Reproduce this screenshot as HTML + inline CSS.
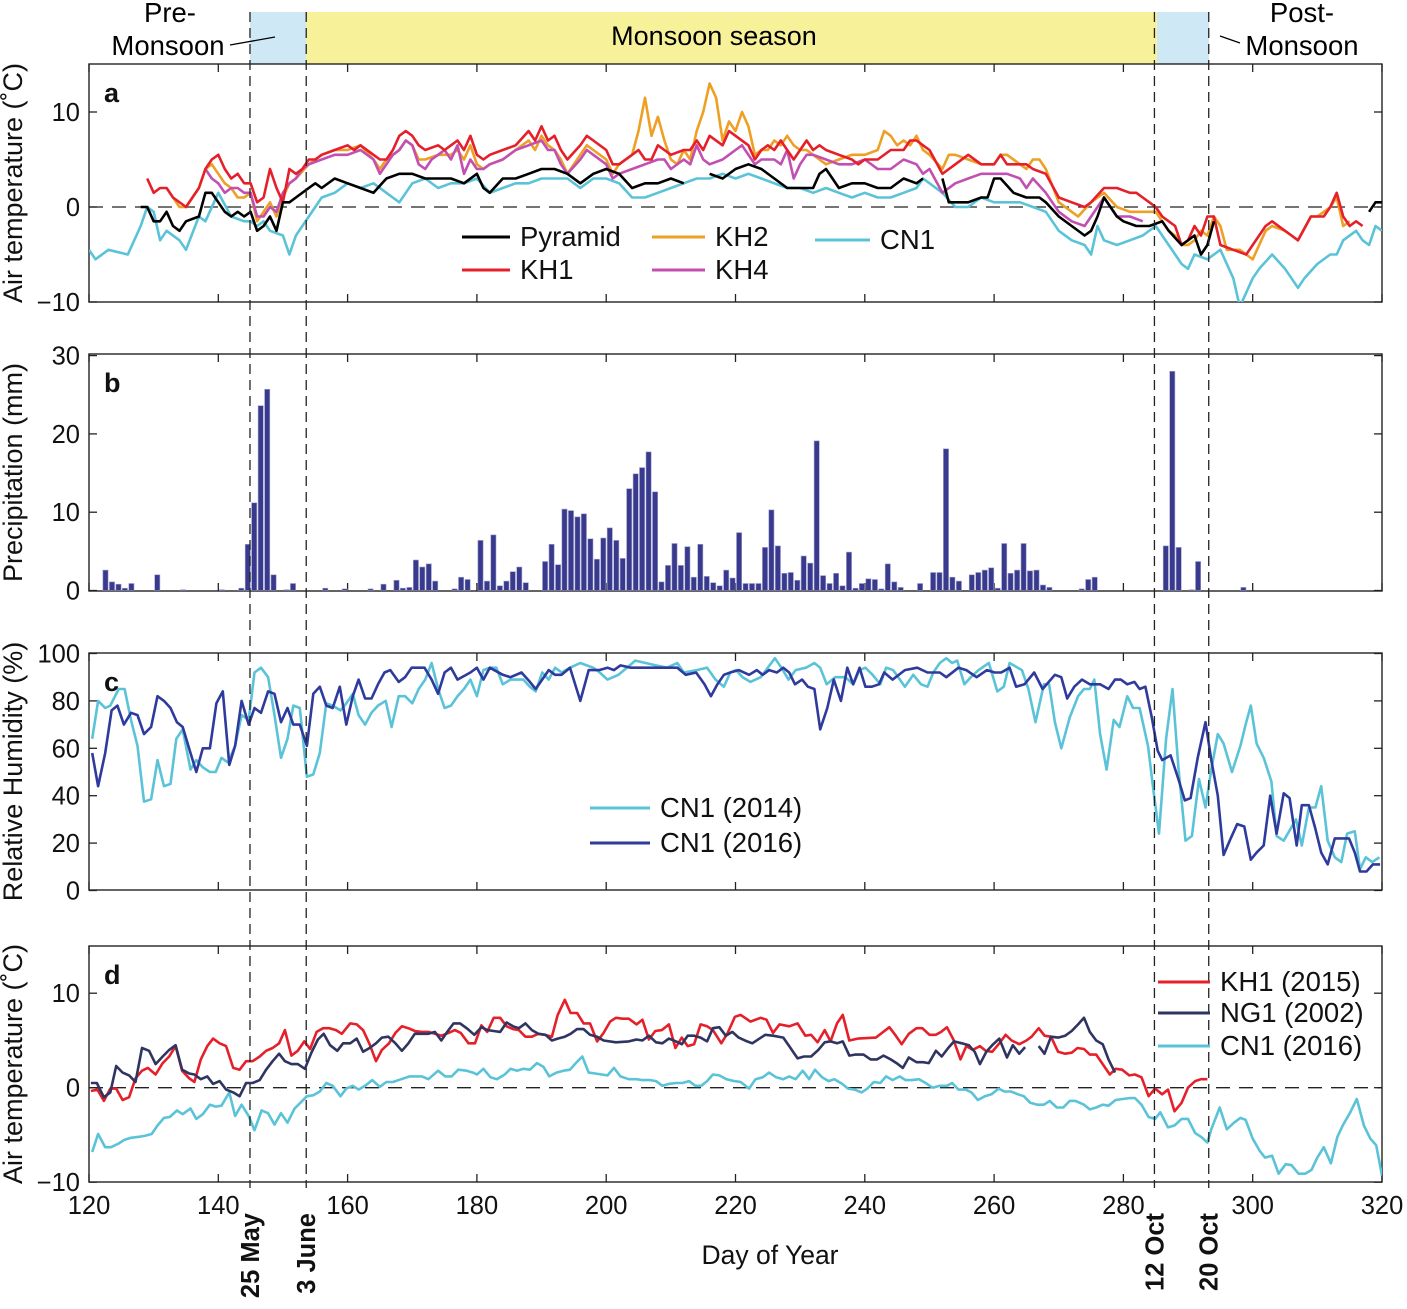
<!DOCTYPE html>
<html><head><meta charset="utf-8">
<style>
html,body{margin:0;padding:0;background:#fff;}
svg{display:block;font-family:"Liberation Sans",Arial,sans-serif;}
</style></head>
<body>
<svg id="chart" width="1407" height="1309" viewBox="0 0 1407 1309" xmlns="http://www.w3.org/2000/svg">
<defs>
<clipPath id="clipA"><rect x="89" y="64" width="1293" height="238"/></clipPath>
<clipPath id="clipC"><rect x="89" y="653" width="1293" height="237"/></clipPath>
<clipPath id="clipD"><rect x="89" y="946" width="1293" height="236"/></clipPath>
</defs>
<!-- season band -->
<rect x="250" y="12" width="56" height="52" fill="#cfe8f6"/>
<rect x="306" y="12" width="851" height="52" fill="#f7f29a"/>
<rect x="1157" y="12" width="52" height="52" fill="#cfe8f6"/>
<text x="714" y="45" font-size="27" text-anchor="middle">Monsoon season</text>
<text x="170" y="22" font-size="27.5" text-anchor="middle">Pre-</text>
<text x="168" y="55" font-size="27.5" text-anchor="middle">Monsoon</text>
<line x1="230" y1="45" x2="275" y2="37" stroke="#000" stroke-width="1.3"/>
<text x="1302" y="22" font-size="27.5" text-anchor="middle">Post-</text>
<text x="1302" y="55" font-size="27.5" text-anchor="middle">Monsoon</text>
<line x1="1220" y1="36" x2="1240" y2="43" stroke="#000" stroke-width="1.3"/>
<g id="plots"></g>
</svg>
<script>
// ---------- Panel a: air temperature ----------
const aCN1Days=[120,121,123,126,128,129,130,131,132,134,135,137,138,140,142,144,145,146,147,148,150,151,152,154,156,158,160,162,164,166,168,170,172,174,176,178,180,182,184,186,188,190,192,194,196,198,200,202,204,206,208,210,212,214,216,218,220,222,224,226,228,230,232,234,236,238,240,242,244,246,248,249,252,254,256,258,260,262,264,266,268,270,272,274,275,276,277,279,281,283,285,287,289,290,291,293,295,297,298,300,301,303,305,307,308,310,312,313,314,316,317,318,319,320];
const aCN1Vals=[-4.5,-5.5,-4.5,-5,-2,0,-0.5,-3.5,-2.5,-3.5,-4.5,-1,-1.5,1.5,-1,-1.5,-1.5,-2,-1.5,-2.5,-3,-5,-3,-1,1,1.5,2.5,2,2.5,1.5,0.5,2.5,3,2,2.5,2.5,3,1.5,2,2.5,2.5,3,3,3,2,3,3,2.5,1,1,1.5,2,2.5,3,3,3.5,3,3.5,3,2.5,2,2,1.5,2,1.5,1,1.5,1,1,1.5,2,3,1.5,0,0,1,0.5,0.5,0.5,0,-0.5,-2.5,-3.5,-4,-5,-2,-3.5,-4,-3.5,-3,-2,-4,-6,-6.5,-5,-5.5,-4.5,-7.5,-10.5,-7.5,-6.5,-5,-6.5,-8.5,-7.5,-6,-5,-5,-3.5,-2.5,-3.5,-4,-2,-2.5];
const aPyrDays=[128,129,130,131,132,133,134,135,137,138,139,141,142,143,144,145,146,147,148,149,150,151,152,154,155,156,158,160,162,164,166,168,170,172,174,176,178,180,181,182,184,186,188,190,192,194,196,198,200,202,204,206,208,210,212,213,216,218,220,222,224,226,228,230,232,233,234,236,238,240,242,244,246,248,249,250,252,253,254,256,258,259,260,261,263,265,267,268,270,272,274,275,276,277,279,280,282,284,286,287,289,290,291,292,293,294,300,318,319,320];
const aPyrVals=[0,0,-1.5,-1.5,-0.5,-2,-2.5,-1.5,-1,1.5,1.5,-0.5,-1,-0.5,-1,-0.5,-2.5,-2,-1,-2.5,0.5,0.5,1,2,2.5,2,3,2.5,2,1.5,3,3.5,3.5,3,3,3,2.5,3.5,2,1.5,3,3,3.5,4,4,3.5,2.5,3.5,4,3.5,2,2.5,2.5,3,2.5,null,3.5,3,4,4.5,4,3,2,2,2,3.5,4,2,2.5,2.5,2,2,3,2.5,3,null,3,0.5,0.5,0.5,1,1,3,3,1.5,1,1,0.5,-1,-2,-3,-2.5,-1,1,-1,-1.5,-2,-2,-1.5,-2.5,-4,-3.5,-3,-5,-4,-1.5,null,-0.5,0.5,0.5];
const aKH1Days=[129,130,131,132,133,135,137,138,139,140,141,142,143,144,145,146,147,148,149,150,151,152,153,154,155,156,158,160,161,162,164,165,166,167,168,169,170,171,172,174,175,176,177,178,179,180,181,182,184,186,188,189,190,191,192,193,194,196,197,198,200,201,202,204,205,206,207,208,209,210,212,213,214,215,216,218,219,220,222,223,224,225,226,227,228,229,230,231,232,233,234,236,238,239,240,242,244,246,247,248,249,250,252,254,256,258,260,261,262,264,265,266,268,270,272,274,275,277,279,281,282,284,285,286,287,288,289,290,291,292,293,294,295,297,299,300,302,303,305,306,307,309,310,311,312,313,314,315,316,317];
const aKH1Vals=[3,1.5,2,2,1,0,2,4,5,5.5,4,3,3.5,2.5,2.5,0.5,1,4,2,0.5,4,3.5,4,5,5,5.5,6,6.5,6,6.5,5.5,5,5,6,7.5,8,7.5,6.5,6,6.5,6,6.5,7,6,7.5,5.5,5,5.5,6,6.5,8,7,8.5,7,7.5,6,5,6.5,7.5,7,6,4.5,4.5,5.5,6,5,5,6.5,6,5.5,6,6,7,6,7.5,6.5,8,7.5,6.5,5,6,6.5,6,7,6,5,6,7,6,6.5,6,5.5,5,4.5,5,5,6,6,7,7,6.5,6,3.5,4.5,5.5,4.5,4.5,5.5,4.5,4.5,4.5,4,3.5,1,0.5,0,0.5,2,2,1.5,1.5,0.5,0,-1,-1.5,-2,-4,-3.5,-2,-3,-1,-1,-4,-4.5,-5,-4,-2,-1.5,-2.5,-3,-3.5,-1,-1,-1,0,1.5,-1,-2,-1.5,-2];
const aKH2Days=[133,134,135,137,138,139,140,141,142,143,144,145,146,147,148,149,150,151,152,154,156,158,160,162,164,165,166,167,168,169,170,171,172,174,176,177,178,179,180,181,182,184,186,188,189,190,191,192,193,194,196,197,198,200,201,202,203,204,205,206,207,208,209,210,211,212,213,214,215,216,217,218,219,220,221,222,223,224,225,226,227,228,229,230,231,232,234,236,238,240,242,243,244,245,246,247,248,249,250,252,253,254,256,258,260,261,262,264,265,266,267,268,270,272,273,275,277,279,281,283,285,286,287,288,289,290,291,292,293,294,295,296,298,300,302,303,305,306,307,309,310,311,312,313,314,315];
const aKH2Vals=[1,0,0,2,4,4.5,3.5,2.5,2,1,1,1.5,-1.5,-0.5,0.5,-1,1,2.5,3,4.5,5.5,6,6,6.5,5,4,5,5.5,6,7,6.5,5,5,5.5,5.5,6,5,6.5,4.5,4,4.5,5,6,7,6,7.5,6.5,6,5,3.5,5.5,6.5,6,5,3.5,4.5,5,5.5,8,11.5,7.5,9.5,7,5,4.5,6,5,8,10,13,11.5,7,9,8,10,8.5,5.5,6,6,7,6.5,7.5,6.5,6,6,5.5,4.5,5,5.5,5.5,6,8,7.5,6.5,7,6.5,7.5,6,5.5,4,5.5,5.5,5,4.5,4.5,5.5,5.5,4.5,4,5,5,4,0.5,-0.5,-1,0.5,1.5,0,-0.5,-0.5,-0.5,-1.5,-2.5,-3,-4,-4,-3.5,-2.5,-3,-1,-2,-4.5,-4.5,-5.5,-2.5,-2,-2.5,-3,-3.5,-1,-1,-0.5,0,1,-2,-1.5];
const aKH4Days=[138,139,140,141,142,143,144,145,146,147,148,149,150,151,152,153,154,156,158,160,162,164,165,166,167,168,169,170,171,172,173,174,175,176,177,178,179,180,181,182,184,186,188,190,191,192,193,194,196,197,198,200,201,202,204,206,208,209,210,212,213,214,215,216,218,219,220,221,222,223,224,226,227,228,229,230,231,232,234,236,238,240,242,244,246,248,249,250,252,254,256,258,260,262,264,265,266,268,270,272,274,275,277,279,281,283];
const aKH4Vals=[4,3,2.5,1.5,2,2,1.5,1.5,-1,-1,0,-0.5,1.5,2.5,3,4,4.5,5,5.5,5.5,6,5,3.5,4.5,5.5,6,7,6.5,4.5,4,5,5.5,6,5,6.5,3.5,5,4,4,4.5,5,6,6.5,7,6,6,4.5,3.5,5,6,5.5,4.5,3,3.5,4,4.5,5,5,4,5,4.5,6.5,5,4.5,5,5.5,6,6.5,5.5,4.5,5,5,4.5,6,3,4.5,5.5,5.5,5,4.5,4.5,5,4,4,5,4.5,3.5,4,1.5,2.5,3,3.5,3.5,3.5,3,2,3,1.5,-0.5,-1.5,-2,-1,1,-1,-1,-1.5];
const aTicks=[10,0,-10];

// ---------- Panel b: precipitation ----------
const bDays=[122,123,124,125,126,130,134,140,143,144,145,146,147,148,150,151,156,159,163,165,167,168,169,170,171,172,173,176,177,178,180,181,182,183,184,185,186,187,190,191,192,193,194,195,196,197,198,199,200,201,202,203,204,205,206,207,208,209,210,211,212,213,214,215,216,217,218,219,220,221,222,223,224,225,226,227,228,229,230,231,232,233,234,235,236,237,238,239,240,241,242,243,244,245,248,250,251,252,253,254,256,257,258,259,260,261,262,263,264,265,266,267,268,273,274,275,286,287,288,290,291,298];
const bVals=[2.6,1.1,0.8,0.3,0.9,2.0,0.1,0.1,0.3,5.9,11.2,23.6,25.7,2.0,0.1,0.9,0.3,0.2,0.2,0.8,1.3,0.3,0.4,3.9,3.0,3.4,1.2,0.2,1.7,1.4,6.4,1.2,7.1,0.6,1.2,2.4,3.0,1.0,3.7,5.9,3.3,10.4,10.2,9.4,9.8,6.6,4.0,6.7,8.0,6.4,4.1,13.0,14.9,15.7,17.7,12.6,1.1,3.2,6.0,3.2,5.6,1.7,5.9,1.8,1.0,0.6,2.6,1.6,7.4,0.9,0.9,0.9,5.5,10.3,5.7,2.2,2.3,1.3,4.4,3.5,19.1,1.9,0.9,2.2,0.6,4.9,0.3,0.9,1.5,1.4,0.2,3.4,1.1,0.4,0.9,2.3,2.3,18.1,1.7,1.2,2.0,2.3,2.6,2.9,0.3,6.0,2.2,2.6,6.0,2.5,2.6,0.7,0.4,0.2,1.4,1.7,5.7,28.0,5.5,0.1,3.7,0.4];
const bTicks=[30,20,10,0];

// ---------- Panel c: relative humidity ----------
const c14Days=[120.5,121.4,122.5,123.3,124.6,125.5,126.5,127.5,128.5,129.6,130.6,131.6,132.6,133.5,134.5,135.7,136.6,137.6,138.7,139.6,140.5,141.5,142.6,143.6,144.7,145.6,146.6,147.7,148.7,149.7,150.7,151.6,152.6,153.7,154.7,155.7,156.7,157.7,158.9,159.8,160.8,161.7,162.7,163.7,164.7,165.9,166.8,167.9,168.9,170,171,172,173,174,175,176,177,178,179,180,181,182,183,184,185.2,186.2,187.2,188.2,189.1,190.1,191.1,192.1,193.1,194.4,196,198,199,200.2,201.9,203.2,204.5,206.1,207.7,209.4,211,212,214,215.6,216.9,218.2,219.2,220.1,221.1,222.3,223.9,226.1,227.1,228.2,229.3,230.9,232.2,233.1,234.1,235.4,237,238.2,239.2,240.1,241.2,242.4,243.3,244.4,246.2,247.5,248.7,249.7,250.6,251.6,252.6,253.5,254.3,255.4,256.4,257.6,259.2,260.5,261.5,262.4,264.3,265.3,266.4,267.7,268.5,269.4,270.4,271.7,273,273.9,274.8,275.5,276.4,277.4,278.5,279.4,280.6,281.5,282.5,283.8,284.7,285.5,286.6,287.6,288.5,289.6,290.6,291.7,292.7,293.6,294.6,295.5,296.8,298.1,298.9,299.7,300.6,301.7,302.9,303.7,304.8,306.7,307.6,308.7,309.7,310.6,311.6,312.7,313.7,314.6,315.8,316.6,317.5,318.5,319.6];
const c14Vals=[64,80,77,78,85,85,72,61,37.5,38.5,55,44,45,64,68,51,55,52,50,50,56,54,61,74,72,92,94,90,74,56,64,78,77,48,49,58,79,78,76,79,83,74,70,75,78,80,69,82,82,79,85,89,96,85,77,78,82,85,89,82,93,94,94,87,89,89,89,86,84,92,89,94,92,94,96,94,92,89,91,94,97,96,95,94,96,92,93,94,89,86,92,93,90,88,90,98,94,89,93,94,96,94,87,90,90,87,93,94,91,87,94,93,86,91,87,86,92,96,98,96,97,87,90,93,96,84,86,96,93,85,71,87,87,71,60,73,82,85,85,89,66,51,72,69,82,77,77,61,41,24,64,85,52,21,23,47,35,51,66,62,50,61,70,78,62,56,46,23,21,30,19,35,35,44,21,14,12,24,25,9,14,12,14];
const c16Days=[120.5,121.4,122.5,123.5,124.4,125.4,126.5,127.5,128.5,129.6,130.6,131.6,132.6,133.6,134.5,135.7,136.6,137.6,138.7,139.7,140.7,141.7,142.6,143.6,144.7,145.6,146.6,147.7,148.7,149.7,150.7,151.6,152.6,153.7,154.7,155.7,156.7,157.7,158.8,159.8,160.8,161.7,162.7,163.7,164.7,165.7,166.6,167.9,168.9,169.9,171.9,173,174,175,176,177,179,180,181,182,184,185.2,186.9,188.2,189.1,190.1,191.1,192.1,193.1,194.4,196,197.3,198.9,200.2,201.2,202.2,203.8,206.1,209.4,211,212.3,213.9,215.2,216.2,217.2,218.2,219.2,220.5,222.1,223.3,224.2,225.2,226.4,227.4,228.3,229.2,230.3,231.2,232.2,233.1,234.2,235.2,236.3,237.3,238.2,239.2,240.1,241.1,242.2,243,244.3,246.2,248.1,249.7,251.6,252.6,254.5,255.7,257.3,258.9,260.1,261.1,262.4,263.4,264.7,266.2,267.5,269.4,270.4,271.3,272.4,273.6,274.8,276.4,277.7,278.7,279.6,280.6,281.7,282.5,283.4,284.4,285.3,286,287.3,288.5,289.5,290.4,291.5,292.7,293.6,294.6,295.5,296.6,297.6,298.7,299.7,300.6,301.7,302.7,303.7,304.8,305.7,306.8,307.6,308.7,309.7,310.6,311.6,312.7,313.9,314.9,315.8,316.6,317.6,318.6,319.7];
const c16Vals=[58,44,58,76,78,70,75,74,66,69,82,80,77,71,69,58,50,60,60,79,84,53,61,80,70,77,75,84,83,71,77,70,70,61,83,86,78,77,86,70,82,89,81,81,87,92,93,88,90,94,94,89,83,92,94,89,92,94,89,94,91,90,92,88,85,89,93,91,91,94,80,93,93,94,93,95,94,94,94,94,91,92,87,82,87,91,92,93,91,93,91,93,92,94,92,87,89,86,85,68,77,89,80,94,87,94,86,86,87,92,89,93,94,92,92,90,94,93,90,93,92,92,94,86,87,92,85,91,90,81,86,89,87,87,85,89,89,87,88,85,86,73,59,55,57,47,38,39,56,71,55,40,15,22,28,27,13,16,19,40,24,41,39,19,36,36,26,16,11,22,22,22,16,8,8,11,11,16];
const cTicks=[100,80,60,40,20,0];

// ---------- Panel d: air temperature comparison ----------
const dKH1Days=[120.3,121.3,122.3,123.3,124.2,125.2,126.2,127.2,128.2,129.1,130.3,131.4,132.4,133.4,134.4,135.5,136.3,137.3,138.3,139.2,140.2,141.2,142.3,143.3,144.3,145.3,146.4,147.4,148.4,149.4,150.3,151.3,152.3,153.3,154.2,155.2,156.2,157.2,158.2,159.1,160.4,161.4,162.4,163.4,164.4,165.3,166.4,167.4,168.4,169.4,170.4,171.5,172.5,173.5,174.5,175.6,176.6,177.5,178.7,179.7,180.7,181.6,182.6,183.6,184.6,185.6,186.5,187.5,188.5,189.5,190.5,191.6,192.5,193.6,194.5,195.5,196.5,197.5,198.6,199.6,200.6,201.5,202.5,203.5,204.7,205.6,206.6,207.6,208.6,209.7,210.7,211.7,212.6,213.6,214.6,215.6,216.5,217.8,218.8,219.9,220.8,222.3,223.9,224.8,225.8,226.8,228.3,229.6,230.8,231.7,232.7,233.8,234.7,235.7,236.6,237.6,238.9,241.7,243.8,244.8,245.7,246.8,248,248.9,250,251,251.8,252.7,253.7,254.8,255.7,256.7,257.8,258.7,259.7,260.7,261.8,262.7,263.9,265,265.8,266.9,267.8,268.8,269.9,271,272,272.9,273.9,274.8,275.8,276.8,277.9,278.8,279.8,280.9,281.8,282.8,283.9,284.9,286,286.9,287.9,289,290,291.1,292,293];
const dKH1Vals=[-0.35,-0.2,-1.4,-0.1,-0.1,-1.3,-1,1,1.8,2.1,1.4,2.6,3.3,4.4,1.8,1,0.6,3,4.4,5.2,4.7,4.4,2.1,1.9,2.8,2.8,3.3,3.9,4.2,4.7,6.1,3.4,3.9,4.9,4.1,5.9,6.3,6.3,6.1,5.7,6.8,6.7,6.1,4.6,2.8,4,4.7,5.8,6.5,6.3,6,5.9,5.9,5.7,5.5,5.8,6.1,5.8,4.7,4.7,6.6,5.9,7.4,7.4,6.5,6.2,6.1,5.4,5.4,5.7,5.6,5.4,7.7,9.3,7.9,7.9,6.8,6.8,4.9,5.8,7,7.4,7.3,7.3,6.7,7.2,5.1,6,6.1,6.7,4.2,5.3,4.4,4.6,6.7,6.5,6.1,4.7,5.8,7.5,7.7,7,7.4,7.2,5.8,6.7,6.5,6.8,5.5,5.6,4.8,6.1,4.9,6.8,7.7,5,5.2,5.3,6.4,5.5,4.6,5.7,6.3,6.3,5.6,5.6,5.9,6.4,5.1,3,4.4,4,4.4,3.9,3.8,4.6,5.6,5,4.6,5,5.4,6.3,5.5,5.4,3.8,3.6,3.7,4.2,4.1,3.5,3.5,2.5,1.4,2,1.9,1.3,1.4,1.1,-0.9,-0.1,-0.7,-0.2,-2.5,-1.6,0,0.7,0.9,0.9];
const dNG1Days=[120.3,121.2,122.3,123.3,124.2,125.2,126.2,127.2,128.2,129.3,130.3,131.4,132.4,133.4,134.4,135.5,136.3,137.3,138.3,139.2,140.2,141.2,142.3,143.3,144.3,145.3,146.4,147.4,148.4,149.4,150.3,151.3,152.3,153.4,154.4,155.4,156.3,157.3,158.4,159.3,160.4,161.4,162.4,163.4,164.4,165.3,166.3,167.4,168.4,169.4,170.4,171.5,172.5,173.5,174.5,175.4,176.4,177.4,178.6,179.6,180.7,181.6,182.6,183.6,184.6,185.6,186.5,187.5,188.5,189.5,190.6,191.6,192.5,193.6,194.5,195.5,196.5,197.5,198.6,199.6,201.5,203.5,204.7,205.6,206.6,207.7,208.7,209.7,210.8,211.7,212.6,213.6,214.6,215.6,216.5,217.5,218.5,219.5,220.5,221.8,222.6,224.6,225.8,227.4,228.3,229.6,230.6,231.7,232.8,233.8,234.7,235.7,236.6,237.6,238.5,239.8,240.9,241.9,242.9,244,244.9,245.9,246.8,248,249,249.9,251,251.9,252.9,253.8,255,256.1,257,257.8,258.8,259.7,260.8,262,262.9,263.9,264.8,265.9,266.9,267.8,268.8,269.9,271,272,273,273.9,274.8,275.8,276.8,277.7,278.7];
const dNG1Vals=[0.5,0.5,-1,-0.5,2.3,1.6,1.3,0.6,4.2,3.9,2.5,3.3,4,4.5,1.9,1.5,1.4,0.9,1.2,0.4,0.7,-0.2,-0.5,-0.9,0.5,0.5,0.8,1.9,2.8,3.6,2.8,2.5,2.5,2,3.7,5.1,5.7,4.5,3.9,4.7,4.7,5.2,3.8,4.2,4.7,5.3,5.4,4.7,3.9,4.7,5.7,5.7,5.7,5.9,5,5.9,6.8,6.8,6.2,5.6,6.4,6.1,6,5.9,6.9,6.5,6.3,6.8,6.1,5.7,5.6,5,5.2,5.4,5.7,6.2,6.2,5.6,5.4,5,4.8,4.9,5.1,5,5.5,4.8,4.7,5.2,4.9,4.6,5.5,5.5,5.3,4.9,6.3,6.4,5.5,5.9,5.3,4.9,4.7,5.6,5.5,5.3,4.4,3.1,3.3,3.3,4,4.8,4.9,4.7,4.9,3.4,3.5,3.5,3,3,3.4,3,2.6,2.1,3.2,2.7,2.7,2.6,3.9,3.3,4.2,4.9,4.7,4.5,3.8,2.5,3.8,4.5,5.2,3.2,4.5,3.6,4.3,null,4.4,3.6,5.4,5.3,5.5,6,6.7,7.4,5.9,5,4.6,3,1.6];
const dCN1Days=[120.5,121.4,122.5,123.4,124.6,125.5,126.5,127.7,128.6,129.7,130.6,131.6,132.5,133.6,134.5,135.7,136.6,137.6,138.7,139.6,140.5,141.7,142.6,143.6,144.7,145.6,146.7,147.7,148.7,149.7,150.7,151.8,152.7,153.7,154.7,155.7,156.7,157.7,158.9,159.8,160.8,161.7,162.7,163.8,165,166,167,168.3,169.6,170.6,171.5,172.5,174,175.1,176.1,177.1,178.4,179.4,180,181,182.1,183.1,184.3,185.2,186.2,187.2,188.2,189.3,190.3,191.2,192.3,193.4,194.4,195.3,196.3,197.3,198.3,199.3,200.2,201.2,202.2,203.5,204.7,205.6,206.8,207.7,208.7,209.7,210.8,211.8,212.8,213.8,214.7,215.6,216.5,217.5,218.6,219.8,220.8,222.1,223.1,224.2,225.2,226.3,227.4,228.3,229.3,230.4,231.4,232.3,233.4,234.4,235.3,236.5,237.4,238.4,239.5,240.4,241.4,242.4,243.3,244.3,245.4,246.3,247.3,248.4,249.4,250.5,251.6,252.7,253.5,254.5,255.6,256.5,257.5,258.6,259.6,260.7,261.6,262.6,263.7,264.6,265.6,266.7,267.7,268.6,269.7,270.7,271.7,272.6,273.9,274.8,275.8,276.8,277.7,278.8,279.9,280.9,281.8,282.8,283.9,284.9,285.7,286.9,287.9,289,290,291.1,292,293,293.6,294.9,296,297.1,298.1,298.9,300,301.1,301.9,303,304,305.1,306,307.1,308.1,309.1,310,311,312.1,313.1,314,315.1,316.1,317.2,318.2,319.1,320];
const dCN1Vals=[-6.8,-4.9,-6.3,-6.3,-5.9,-5.5,-5.3,-5.2,-5.1,-4.9,-4,-3.2,-3.1,-2.4,-2.8,-2.2,-3.3,-2.8,-1.8,-2,-1.9,-0.5,-3,-1.8,-3,-4.5,-2.4,-2.7,-3.9,-2.7,-3.7,-2.2,-1.6,-0.9,-0.8,-0.4,0.5,0.2,-0.9,-0.1,0.2,-0.2,0.2,0.8,0.1,0.6,0.6,0.9,1.2,1.2,1.2,0.9,1.8,1.2,1.2,1.9,1.8,1.6,1.4,2,1.1,0.9,1.4,2,1.8,2,1.9,2.6,2.2,1.2,1.6,1.8,1.9,2.6,3.3,1.6,1.5,1.4,1.3,2.1,1.2,0.9,0.9,0.8,0.8,0.7,0.2,0.4,0.5,0.5,0.7,0.2,0.2,0.7,1.4,1.3,0.9,0.7,0.6,-0.1,0.9,1.1,1.6,1.1,0.9,1.2,0.9,1.8,0.9,1.9,1.1,0.7,0.9,0.4,-0.1,-0.2,-0.5,-0.1,0.6,0.5,1.2,0.8,1.2,0.8,0.8,0.9,0.5,0,0.2,0.2,0.5,-0.2,-0.2,-0.5,-1.3,-0.9,-0.7,-0.1,-0.4,-0.4,-0.7,-0.9,-1.6,-1.8,-1.8,-1.4,-2.1,-2.1,-1.4,-1.4,-1.8,-2.3,-2.1,-1.8,-1.9,-1.3,-1.2,-1.1,-1.1,-1.8,-3.1,-3.3,-2.6,-4.2,-4,-3.3,-3.3,-4.8,-5.2,-5.8,-4.4,-2.1,-4.4,-3.7,-3.2,-3.4,-5.4,-6.7,-7.4,-7.2,-9.1,-8.1,-8.2,-9.1,-9.1,-8.7,-7.4,-6.3,-8,-5.2,-3.9,-2.6,-1.2,-4,-5.4,-6.1,-9.3];
const dTicks=[10,0,-10];

const xTicks=[120,140,160,180,200,220,240,260,280,300,320];
const markerDays=[144.9,153.6,284.8,293.2];
const markerLabels=["25 May","3 June","12 Oct","20 Oct"];

// ---------- drawing ----------
const NS="http://www.w3.org/2000/svg";
const root=document.getElementById('plots');
const X0=89,X1=1382;
function xs(d){return X0+(d-120)*(X1-X0)/200;}
function mk(tag,attrs,parent){const e=document.createElementNS(NS,tag);for(const k in attrs)e.setAttribute(k,attrs[k]);(parent||root).appendChild(e);return e;}
function yLin(v0,y0,v1,y1){return v=>y0+(v-v0)*(y1-y0)/(v1-v0);}

const panels=[
 {key:'a',top:64,bot:302,y:yLin(0,207,10,112),ticks:aTicks,fmt:t=>t<0?'\u2212'+(-t):''+t,title:'Air temperature (\u02DAC)',zero:true,clip:'clipA'},
 {key:'b',top:354,bot:591,y:yLin(0,590.5,10,512.2),ticks:bTicks,fmt:t=>''+t,title:'Precipitation (mm)',zero:false},
 {key:'c',top:653,bot:890,y:yLin(0,890.5,100,653.5),ticks:cTicks,fmt:t=>''+t,title:'Relative Humidity (%)',zero:false,clip:'clipC'},
 {key:'d',top:946,bot:1182,y:yLin(0,1087.7,10,993.2),ticks:dTicks,fmt:t=>t<0?'\u2212'+(-t):''+t,title:'Air temperature (\u02DAC)',zero:true,clip:'clipD'}
];

function line(p,days,vals,color,name,w){
  let d='',pen=false;
  for(let i=0;i<days.length;i++){
    if(vals[i]===null||vals[i]===undefined){pen=false;continue;}
    d+=(pen?'L':'M')+xs(days[i]).toFixed(1)+','+p.y(vals[i]).toFixed(1);pen=true;
  }
  const el=mk('path',{d:d,fill:'none',stroke:color,'stroke-width':w||2.6,'stroke-linejoin':'round','clip-path':'url(#'+p.clip+')'});
  
  
  return el;
}

panels.forEach(p=>{
  const fr=mk('rect',{x:X0,y:p.top,width:X1-X0,height:p.bot-p.top,fill:'none',stroke:'#222','stroke-width':1.4});
  
  
  xTicks.forEach(t=>{
    const x=xs(t);
    mk('line',{x1:x,y1:p.bot,x2:x,y2:p.bot-8,stroke:'#222','stroke-width':1.3});
    mk('line',{x1:x,y1:p.top,x2:x,y2:p.top+8,stroke:'#222','stroke-width':1.3});
  });
  p.ticks.forEach(t=>{
    const y=p.y(t);
    mk('line',{x1:X0,y1:y,x2:X0+8,y2:y,stroke:'#222','stroke-width':1.3});
    mk('line',{x1:X1,y1:y,x2:X1-8,y2:y,stroke:'#222','stroke-width':1.3});
    const tl=mk('text',{x:80,y:y+9,'font-size':25.5,'text-anchor':'end',fill:'#111'});
    tl.textContent=p.fmt(t);
    
    
  });
  const cy=(p.top+p.bot)/2;
  const yt=mk('text',{x:0,y:0,'font-size':27,'text-anchor':'middle',fill:'#111',transform:'translate(22,'+cy+') rotate(-90)'});
  yt.textContent=p.title;
  
  
  const lt=mk('text',{x:104,y:p.top+38,'font-size':27,'font-weight':'bold',fill:'#111'});
  lt.textContent=p.key;
  
  
  if(p.zero){
    const z=mk('line',{x1:X0,y1:p.y(0),x2:X1,y2:p.y(0),stroke:'#222','stroke-width':1.3,'stroke-dasharray':'14,9'});
    
    
  }
});

const pa=panels[0];
line(pa,aCN1Days,aCN1Vals,'#5bc3d8','series-a-cn1');
line(pa,aKH2Days,aKH2Vals,'#eea024','series-a-kh2');
line(pa,aKH4Days,aKH4Vals,'#c24fb2','series-a-kh4');
line(pa,aKH1Days,aKH1Vals,'#e5202a','series-a-kh1');
line(pa,aPyrDays,aPyrVals,'#000','series-a-pyramid');

const pb=panels[1];
bDays.forEach((d,i)=>{
  const x=xs(d)+1;const y=pb.y(bVals[i]);
  const r=mk('rect',{x:(x).toFixed(1),y:y.toFixed(1),width:5.2,height:(pb.y(0)-y).toFixed(1),fill:'#393a8e',stroke:'#9da0cc','stroke-width':0.6});
  
  
});

const pc=panels[2];
line(pc,c14Days,c14Vals,'#5bc3d8','series-c-cn1-2014');
line(pc,c16Days,c16Vals,'#2e3a9c','series-c-cn1-2016');

const pd=panels[3];
line(pd,dCN1Days,dCN1Vals,'#5bc3d8','series-d-cn1-2016');
line(pd,dKH1Days,dKH1Vals,'#e5202a','series-d-kh1-2015');
line(pd,dNG1Days,dNG1Vals,'#2f3560','series-d-ng1-2002');

markerDays.forEach((d,i)=>{
  const x=xs(d);
  const l=mk('line',{x1:x,y1:12,x2:x,y2:1188,stroke:'#222','stroke-width':1.3,'stroke-dasharray':'10,6'});
  
  
  const t=mk('text',{x:0,y:0,'font-size':25.5,'font-weight':'bold','text-anchor':'end',fill:'#111',transform:'translate('+(x+9)+',1213) rotate(-90)'});
  t.textContent=markerLabels[i];
  
  
});

xTicks.forEach(t=>{
  const tl=mk('text',{x:xs(t),y:1214,'font-size':25.5,'text-anchor':'middle',fill:'#111'});
  tl.textContent=''+t;
  
  
});
const xt=mk('text',{x:770,y:1264,'font-size':26.5,'text-anchor':'middle',fill:'#111'});
xt.textContent='Day of Year';



function legend(x1,x2,y,color,label,name){
  const g=mk('g',{});
  
  
  mk('line',{x1:x1,y1:y,x2:x2,y2:y,stroke:color,'stroke-width':3},g);
  const t=mk('text',{x:x2+10,y:y+9,'font-size':27.5,fill:'#111'},g);
  t.textContent=label;
}
legend(462,510,237,'#000','Pyramid','legend-pyramid');
legend(462,510,270,'#e5202a','KH1','legend-kh1');
legend(652,705,237,'#eea024','KH2','legend-kh2');
legend(652,705,270,'#c24fb2','KH4','legend-kh4');
legend(815,870,240,'#5bc3d8','CN1','legend-cn1');
legend(590,650,808,'#5bc3d8','CN1 (2014)','legend-cn1-2014');
legend(590,650,843,'#2e3a9c','CN1 (2016)','legend-cn1-2016');
legend(1158,1210,982,'#e5202a','KH1 (2015)','legend-kh1-2015');
legend(1158,1210,1013,'#2f3560','NG1 (2002)','legend-ng1-2002');
legend(1158,1210,1046,'#5bc3d8','CN1 (2016)','legend-cn1-2016-d');
</script>
</body></html>
